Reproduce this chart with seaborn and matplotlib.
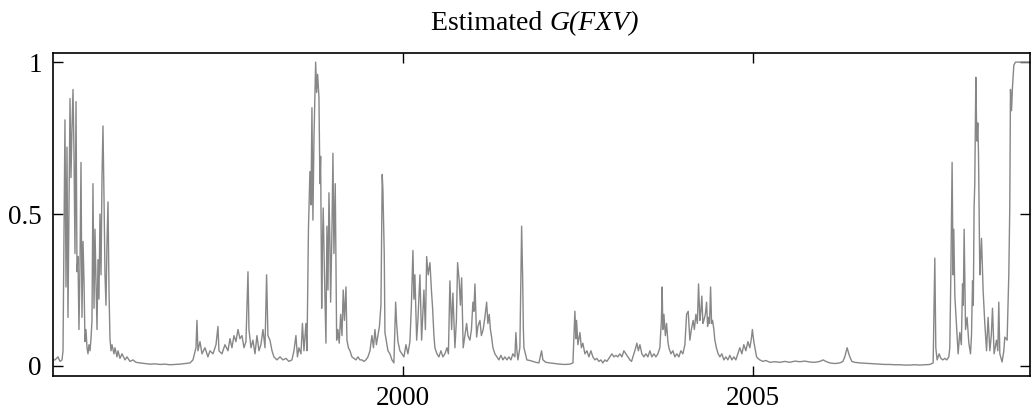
import matplotlib
matplotlib.use("Agg")
import matplotlib.pyplot as plt
import seaborn as sns
import pandas as pd

# ---- data (decimal year, estimated G(FXV)) ----
years = [
    1995.000, 1995.029, 1995.071, 1995.100, 1995.129, 1995.143, 1995.171, 1995.186, 1995.200, 1995.214,
    1995.229, 1995.243, 1995.257, 1995.271, 1995.286, 1995.300, 1995.314, 1995.329, 1995.343, 1995.357,
    1995.371, 1995.386, 1995.400, 1995.414, 1995.429, 1995.443, 1995.457, 1995.471, 1995.486, 1995.500,
    1995.514, 1995.529, 1995.543, 1995.557, 1995.571, 1995.586, 1995.600, 1995.614, 1995.629, 1995.643,
    1995.657, 1995.671, 1995.686, 1995.700, 1995.714, 1995.729, 1995.743, 1995.757, 1995.771, 1995.786,
    1995.800, 1995.814, 1995.829, 1995.843, 1995.871, 1995.886, 1995.914, 1995.929, 1995.957, 1995.986,
    1996.029, 1996.057, 1996.100, 1996.143, 1996.186, 1996.243, 1996.314, 1996.386, 1996.457, 1996.529,
    1996.600, 1996.671, 1996.743, 1996.814, 1996.886, 1996.957, 1997.000, 1997.043, 1997.057, 1997.071,
    1997.100, 1997.129, 1997.171, 1997.214, 1997.243, 1997.286, 1997.329, 1997.357, 1997.371, 1997.414,
    1997.457, 1997.500, 1997.529, 1997.557, 1997.586, 1997.614, 1997.643, 1997.671, 1997.700, 1997.729,
    1997.757, 1997.786, 1997.800, 1997.829, 1997.857, 1997.886, 1997.914, 1997.943, 1997.971, 1998.000,
    1998.029, 1998.052, 1998.071, 1998.100, 1998.129, 1998.157, 1998.200, 1998.243, 1998.286, 1998.329,
    1998.371, 1998.414, 1998.443, 1998.471, 1998.493, 1998.514, 1998.543, 1998.564, 1998.586, 1998.614,
    1998.629, 1998.650, 1998.671, 1998.686, 1998.700, 1998.714, 1998.729, 1998.753, 1998.767, 1998.781,
    1998.800, 1998.814, 1998.824, 1998.839, 1998.850, 1998.861, 1998.879, 1998.900, 1998.914, 1998.929,
    1998.943, 1998.957, 1998.967, 1998.986, 1999.000, 1999.014, 1999.033, 1999.053, 1999.071, 1999.090,
    1999.110, 1999.129, 1999.147, 1999.164, 1999.186, 1999.200, 1999.221, 1999.243, 1999.271, 1999.300,
    1999.329, 1999.357, 1999.386, 1999.414, 1999.443, 1999.471, 1999.500, 1999.529, 1999.557, 1999.579,
    1999.600, 1999.621, 1999.643, 1999.664, 1999.686, 1999.704, 1999.714, 1999.733, 1999.743, 1999.764,
    1999.786, 1999.814, 1999.843, 1999.871, 1999.896, 1999.910, 1999.929, 1999.957, 1999.986, 2000.014,
    2000.043, 2000.071, 2000.100, 2000.121, 2000.143, 2000.157, 2000.171, 2000.196, 2000.214, 2000.243,
    2000.267, 2000.286, 2000.300, 2000.321, 2000.339, 2000.361, 2000.386, 2000.407, 2000.424, 2000.443,
    2000.457, 2000.486, 2000.514, 2000.543, 2000.571, 2000.600, 2000.629, 2000.650, 2000.671, 2000.696,
    2000.714, 2000.743, 2000.764, 2000.781, 2000.804, 2000.821, 2000.839, 2000.861, 2000.886, 2000.910,
    2000.929, 2000.957, 2000.979, 2001.000, 2001.014, 2001.029, 2001.053, 2001.071, 2001.100, 2001.121,
    2001.147, 2001.171, 2001.196, 2001.214, 2001.233, 2001.250, 2001.267, 2001.286, 2001.314, 2001.343,
    2001.371, 2001.400, 2001.429, 2001.457, 2001.486, 2001.514, 2001.543, 2001.571, 2001.600, 2001.614,
    2001.629, 2001.643, 2001.671, 2001.696, 2001.710, 2001.721, 2001.729, 2001.750, 2001.771, 2001.814,
    2001.857, 2001.900, 2001.943, 2001.981, 2002.000, 2002.043, 2002.100, 2002.171, 2002.243, 2002.314,
    2002.386, 2002.429, 2002.457, 2002.471, 2002.481, 2002.500, 2002.529, 2002.550, 2002.571, 2002.600,
    2002.629, 2002.657, 2002.686, 2002.714, 2002.743, 2002.771, 2002.800, 2002.829, 2002.857, 2002.886,
    2002.914, 2002.957, 2002.986, 2003.014, 2003.043, 2003.071, 2003.100, 2003.129, 2003.157, 2003.186,
    2003.214, 2003.243, 2003.267, 2003.286, 2003.314, 2003.343, 2003.364, 2003.386, 2003.414, 2003.443,
    2003.471, 2003.500, 2003.529, 2003.557, 2003.586, 2003.614, 2003.643, 2003.671, 2003.693, 2003.704,
    2003.714, 2003.729, 2003.750, 2003.767, 2003.786, 2003.800, 2003.829, 2003.857, 2003.886, 2003.914,
    2003.943, 2003.971, 2004.000, 2004.029, 2004.053, 2004.076, 2004.100, 2004.121, 2004.147, 2004.164,
    2004.186, 2004.207, 2004.224, 2004.243, 2004.257, 2004.271, 2004.286, 2004.300, 2004.321, 2004.339,
    2004.353, 2004.367, 2004.381, 2004.396, 2004.410, 2004.424, 2004.443, 2004.457, 2004.479, 2004.504,
    2004.529, 2004.557, 2004.586, 2004.614, 2004.643, 2004.671, 2004.700, 2004.729, 2004.757, 2004.786,
    2004.814, 2004.843, 2004.871, 2004.900, 2004.929, 2004.957, 2004.979, 2004.993, 2005.014, 2005.029,
    2005.053, 2005.071, 2005.100, 2005.143, 2005.186, 2005.243, 2005.314, 2005.386, 2005.457, 2005.529,
    2005.600, 2005.671, 2005.743, 2005.814, 2005.886, 2005.957, 2006.004, 2006.043, 2006.100, 2006.171,
    2006.243, 2006.286, 2006.314, 2006.347, 2006.371, 2006.386, 2006.414, 2006.457, 2006.529, 2006.600,
    2006.671, 2006.743, 2006.814, 2006.886, 2006.957, 2007.029, 2007.100, 2007.171, 2007.243, 2007.314,
    2007.386, 2007.457, 2007.529, 2007.576, 2007.600, 2007.614, 2007.633, 2007.661, 2007.686, 2007.714,
    2007.743, 2007.771, 2007.800, 2007.814, 2007.829, 2007.847, 2007.861, 2007.871, 2007.886, 2007.910,
    2007.933, 2007.957, 2007.979, 2007.996, 2008.007, 2008.019, 2008.039, 2008.061, 2008.086, 2008.110,
    2008.124, 2008.139, 2008.150, 2008.161, 2008.171, 2008.186, 2008.196, 2008.204, 2008.214, 2008.224,
    2008.243, 2008.254, 2008.267, 2008.290, 2008.314, 2008.339, 2008.361, 2008.386, 2008.407, 2008.424,
    2008.447, 2008.481, 2008.500, 2008.514, 2008.529, 2008.561, 2008.586, 2008.600, 2008.633, 2008.657,
    2008.671, 2008.681, 2008.696, 2008.710, 2008.729, 2008.753, 2008.814, 2008.886, 2008.957,
]

g_fxv = [
    0.020, 0.020, 0.030, 0.015, 0.020, 0.050, 0.810, 0.260, 0.720, 0.160,
    0.550, 0.880, 0.620, 0.780, 0.910, 0.700, 0.370, 0.870, 0.310, 0.360,
    0.120, 0.340, 0.670, 0.160, 0.410, 0.280, 0.080, 0.120, 0.060, 0.040,
    0.070, 0.050, 0.090, 0.150, 0.600, 0.190, 0.450, 0.280, 0.120, 0.350,
    0.220, 0.500, 0.300, 0.620, 0.790, 0.550, 0.300, 0.200, 0.400, 0.540,
    0.250, 0.090, 0.050, 0.070, 0.040, 0.060, 0.030, 0.050, 0.025, 0.040,
    0.020, 0.030, 0.015, 0.020, 0.012, 0.010, 0.008, 0.006, 0.007, 0.005,
    0.006, 0.004, 0.005, 0.006, 0.008, 0.010, 0.020, 0.060, 0.150, 0.050,
    0.080, 0.040, 0.060, 0.030, 0.050, 0.040, 0.070, 0.130, 0.050, 0.040,
    0.070, 0.050, 0.090, 0.060, 0.100, 0.080, 0.120, 0.090, 0.100, 0.060,
    0.080, 0.310, 0.120, 0.060, 0.085, 0.040, 0.100, 0.050, 0.070, 0.120,
    0.060, 0.300, 0.100, 0.085, 0.050, 0.030, 0.020, 0.030, 0.020, 0.025,
    0.015, 0.020, 0.050, 0.100, 0.030, 0.060, 0.040, 0.140, 0.050, 0.140,
    0.050, 0.450, 0.640, 0.530, 0.850, 0.480, 0.750, 1.000, 0.900, 0.960,
    0.885, 0.600, 0.690, 0.190, 0.400, 0.520, 0.300, 0.075, 0.460, 0.250,
    0.570, 0.400, 0.210, 0.450, 0.700, 0.370, 0.600, 0.085, 0.120, 0.075,
    0.170, 0.100, 0.250, 0.150, 0.260, 0.085, 0.060, 0.050, 0.030, 0.025,
    0.020, 0.030, 0.020, 0.020, 0.015, 0.020, 0.030, 0.050, 0.100, 0.060,
    0.120, 0.070, 0.100, 0.130, 0.200, 0.630, 0.580, 0.370, 0.110, 0.080,
    0.050, 0.040, 0.020, 0.010, 0.210, 0.140, 0.080, 0.050, 0.040, 0.030,
    0.070, 0.040, 0.080, 0.200, 0.380, 0.220, 0.300, 0.085, 0.150, 0.300,
    0.085, 0.180, 0.250, 0.120, 0.360, 0.300, 0.340, 0.250, 0.190, 0.100,
    0.060, 0.040, 0.030, 0.050, 0.030, 0.040, 0.060, 0.040, 0.280, 0.120,
    0.240, 0.060, 0.150, 0.340, 0.280, 0.200, 0.290, 0.060, 0.100, 0.140,
    0.100, 0.085, 0.120, 0.210, 0.180, 0.270, 0.095, 0.130, 0.150, 0.100,
    0.120, 0.160, 0.210, 0.140, 0.170, 0.120, 0.095, 0.060, 0.040, 0.030,
    0.020, 0.035, 0.020, 0.030, 0.020, 0.030, 0.020, 0.040, 0.030, 0.110,
    0.050, 0.020, 0.060, 0.460, 0.300, 0.120, 0.060, 0.040, 0.020, 0.018,
    0.015, 0.012, 0.010, 0.050, 0.020, 0.012, 0.010, 0.008, 0.006, 0.005,
    0.006, 0.010, 0.180, 0.090, 0.150, 0.070, 0.110, 0.060, 0.075, 0.040,
    0.050, 0.030, 0.050, 0.030, 0.020, 0.025, 0.015, 0.020, 0.010, 0.020,
    0.015, 0.030, 0.040, 0.030, 0.035, 0.030, 0.040, 0.030, 0.050, 0.040,
    0.030, 0.020, 0.015, 0.030, 0.050, 0.075, 0.050, 0.070, 0.040, 0.030,
    0.040, 0.030, 0.050, 0.030, 0.040, 0.030, 0.040, 0.060, 0.150, 0.260,
    0.120, 0.170, 0.100, 0.140, 0.080, 0.060, 0.040, 0.050, 0.030, 0.040,
    0.030, 0.050, 0.040, 0.070, 0.170, 0.180, 0.085, 0.120, 0.150, 0.120,
    0.170, 0.140, 0.270, 0.150, 0.180, 0.230, 0.140, 0.150, 0.170, 0.210,
    0.130, 0.160, 0.140, 0.260, 0.140, 0.150, 0.120, 0.085, 0.060, 0.040,
    0.030, 0.040, 0.020, 0.030, 0.020, 0.035, 0.020, 0.030, 0.020, 0.040,
    0.060, 0.040, 0.070, 0.050, 0.080, 0.060, 0.090, 0.120, 0.080, 0.060,
    0.030, 0.025, 0.020, 0.015, 0.018, 0.012, 0.014, 0.012, 0.015, 0.012,
    0.016, 0.014, 0.016, 0.013, 0.012, 0.015, 0.020, 0.015, 0.010, 0.008,
    0.010, 0.015, 0.030, 0.060, 0.040, 0.030, 0.015, 0.012, 0.010, 0.009,
    0.008, 0.007, 0.006, 0.005, 0.005, 0.004, 0.004, 0.003, 0.003, 0.004,
    0.003, 0.004, 0.005, 0.010, 0.355, 0.060, 0.020, 0.040, 0.025, 0.020,
    0.025, 0.020, 0.030, 0.060, 0.300, 0.670, 0.300, 0.450, 0.230, 0.130,
    0.040, 0.110, 0.070, 0.270, 0.200, 0.450, 0.120, 0.160, 0.075, 0.040,
    0.100, 0.280, 0.200, 0.520, 0.600, 0.950, 0.800, 0.740, 0.800, 0.700,
    0.300, 0.350, 0.420, 0.250, 0.140, 0.050, 0.160, 0.050, 0.100, 0.190,
    0.040, 0.085, 0.050, 0.210, 0.040, 0.013, 0.050, 0.095, 0.085, 0.300,
    0.520, 0.910, 0.840, 0.920, 0.990, 1.000, 1.000, 1.000, 1.000,
]

x_ticks = [2000, 2005]
x_tick_labels = ["2000", "2005"]
y_ticks = [0, 0.5, 1]
y_tick_labels = ["0", "0.5", "1"]
title_plain = "Estimated "
title_italic = "G(FXV)"

df = pd.DataFrame({"year": years, "G": g_fxv})

# ---- style ----
sns.set_style("white")
plt.rcParams["font.family"] = ["Liberation Serif", "DejaVu Serif"]

W, H = 1031, 418
fig = plt.figure(figsize=(W / 100, H / 100), dpi=100)
ax = fig.add_axes([53 / W, (H - 376) / H, (1030 - 53) / W, (376 - 53) / H])

sns.lineplot(data=df, x="year", y="G", ax=ax, color="#878787", linewidth=1.0,
             estimator=None, sort=False)

ax.set_xlim(1995.0, 2008.96)
ax.set_ylim(-0.033, 1.03)
ax.set_xticks(x_ticks)
ax.set_xticklabels(x_tick_labels)
ax.set_yticks(y_ticks)
ax.set_yticklabels(y_tick_labels)
ax.set_xlabel("")
ax.set_ylabel("")

ax.tick_params(axis="both", direction="in", length=7, width=1.0, labelsize=19.5,
               color="black", labelcolor="black")
ax.tick_params(axis="x", top=True, bottom=True, pad=7)
ax.tick_params(axis="y", left=True, right=True, pad=8)

for s in ax.spines.values():
    s.set_visible(True)
    s.set_color("black")
    s.set_linewidth(1.2)

# title: plain part + italic part, joined at the same baseline point
split_x = (549 - 53) / (1030 - 53)
title_y = 1 + (53 - 30) / (376 - 53)
ax.text(split_x, title_y, title_plain, transform=ax.transAxes, ha="right",
        va="baseline", fontsize=20, color="black")
ax.text(split_x, title_y, title_italic, transform=ax.transAxes, ha="left",
        va="baseline", fontsize=20, fontstyle="italic", color="black")

fig.savefig("out.png", dpi=100)
